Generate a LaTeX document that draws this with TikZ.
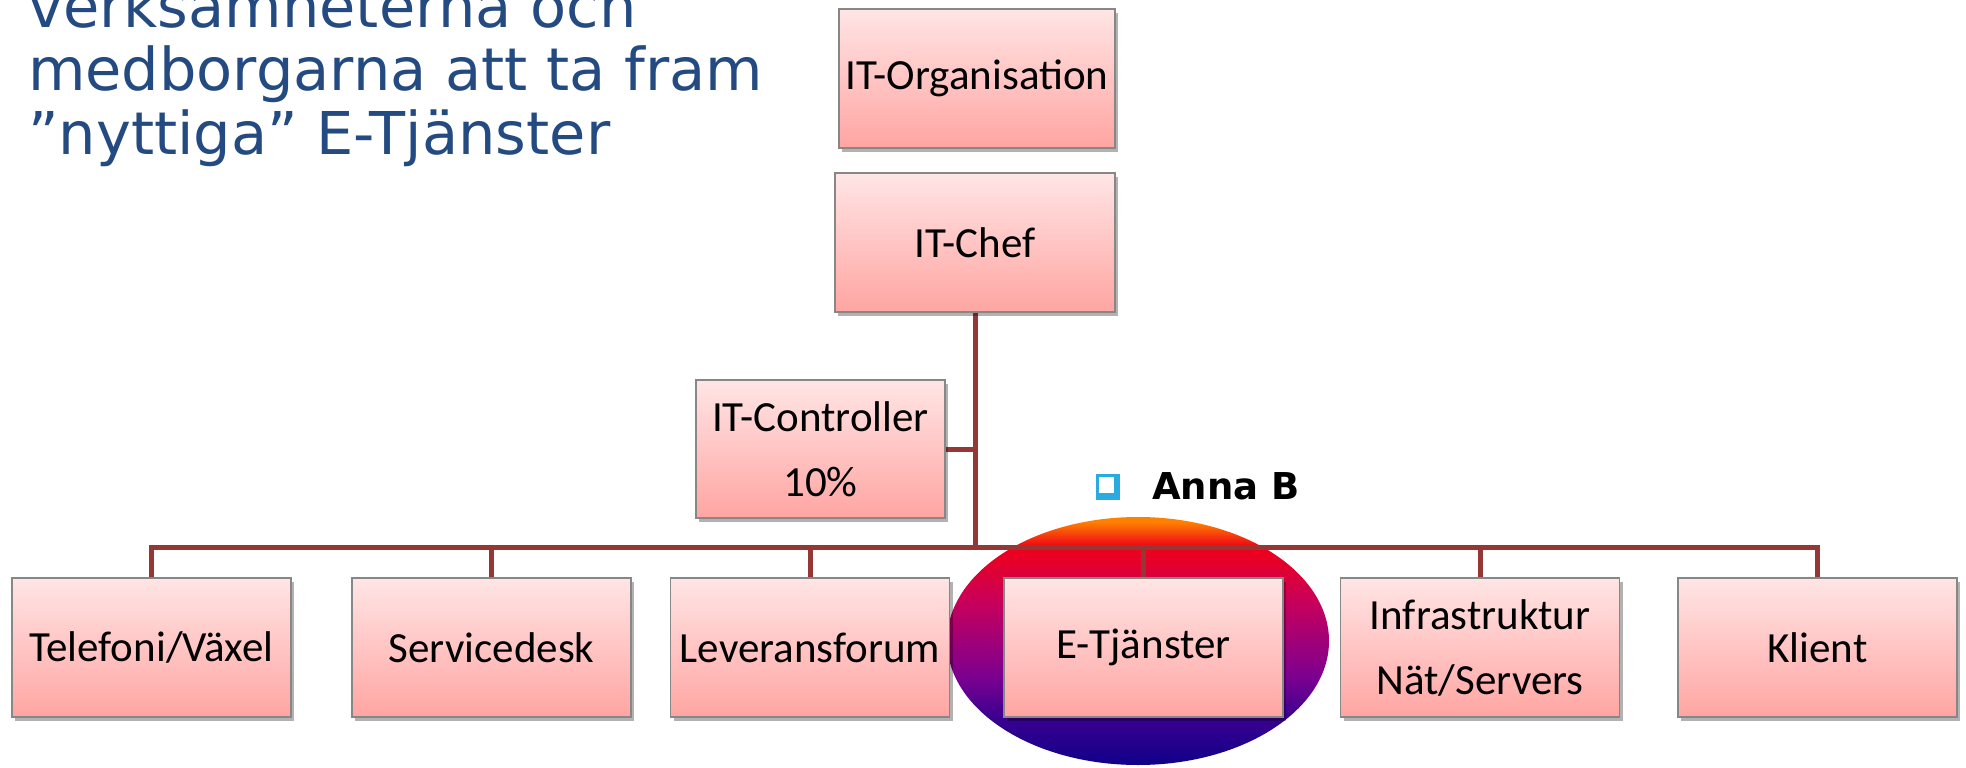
\documentclass[tikz,border=0pt]{standalone}
\usepackage{fontspec}
\setmainfont{Carlito}
\newfontfamily\titlefont{DejaVu Sans}
\usetikzlibrary{shadows,backgrounds}
\definecolor{conncol}{RGB}{149,55,53}
\definecolor{titleblue}{RGB}{36,74,130}
\definecolor{boxtop}{RGB}{255,229,229}
\definecolor{boxbot}{RGB}{255,165,162}
\definecolor{boxline}{RGB}{135,135,135}
\definecolor{bullcyan}{RGB}{41,171,226}
\definecolor{eOr}{RGB}{255,128,0}
\definecolor{eRed}{RGB}{240,0,24}
\definecolor{eCrim}{RGB}{200,0,90}
\definecolor{ePur}{RGB}{160,0,120}
\definecolor{eVio}{RGB}{122,0,144}
\definecolor{eInd}{RGB}{58,0,144}
\definecolor{eBlue}{RGB}{16,0,138}
\pgfdeclareverticalshading{eshade}{100bp}{color(0bp)=(eBlue); color(25bp)=(eBlue); color(34.5bp)=(eInd); color(42.5bp)=(eVio); color(50bp)=(ePur); color(58bp)=(eCrim); color(69bp)=(eRed); color(74bp)=(eOr); color(100bp)=(eOr)}
\tikzset{
  box/.style={draw=boxline, line width=1.3pt, top color=boxtop, bottom color=boxbot,
    minimum width=279, minimum height=139, inner sep=0pt, align=center,
    font=\fontsize{43}{65}\selectfont,
    drop shadow={shadow xshift=3pt, shadow yshift=-4pt, fill=black, opacity=0.3}},
  conn/.style={draw=conncol, line width=5pt},
  titletext/.style={anchor=base west, inner sep=0pt, text=titleblue,
    font=\titlefont\fontsize{59}{63}\selectfont}
}
\begin{document}
\begin{tikzpicture}[x=1pt,y=-1pt]
\useasboundingbox (0,0) rectangle (1966,768);
% title
\node[titletext] (t1) at (28,28) {verksamheterna och};
\node[titletext] (t2) at (28,90) {medborgarna att ta fram};
\node[titletext] (t3) at (28,154) {”nyttiga” E-Tjänster};
% boxes
\node[box, minimum width=276] (org) at (977,78.5) {IT-Organisation};
\node[box, minimum width=280] (chef) at (975,242.5) {IT-Chef};
\node[box, minimum width=249, minimum height=138] (ctrl) at (820.5,449) {IT-Controller\\10\%};
\node[box] (tel) at (151.5,647.5) {Telefoni/Växel};
\node[box] (svc) at (491.5,647.5) {Servicedesk};
\node[box] (lev) at (810,647.5) {Leveransforum};
\node[box] (etj) at (1143.5,647.5) {E-Tjänster};
\node[box] (inf) at (1480,647.5) {Infrastruktur\\Nät/Servers};
\node[box] (kli) at (1817.5,647.5) {Klient};
\coordinate (bus) at (975,547);
% bullet + label
\fill[bullcyan] (1096,474) rectangle (1120,500);
\fill[white] (1098.5,476.5) rectangle (1114,493);
\node[anchor=base west, inner sep=0pt, font=\titlefont\bfseries\fontsize{37}{40}\selectfont] (anna) at (1152,499) {Anna B};
\begin{scope}[on background layer]
  \shade[shading=eshade] (1138,641) ellipse [x radius=191, y radius=124];
  \draw[conn] (tel.north) -- (tel.north |- bus) -- (kli.north |- bus) -- (kli.north);
  \draw[conn] (svc.north) -- (svc.north |- bus);
  \draw[conn] (lev.north) -- (lev.north |- bus);
  \draw[conn] (etj.north) -- (etj.north |- bus);
  \draw[conn] (inf.north) -- (inf.north |- bus);
  \draw[conn] (chef.south) -- (bus);
  \draw[conn] (ctrl.east) -- (ctrl.east -| bus);
\end{scope}
\end{tikzpicture}
\end{document}
